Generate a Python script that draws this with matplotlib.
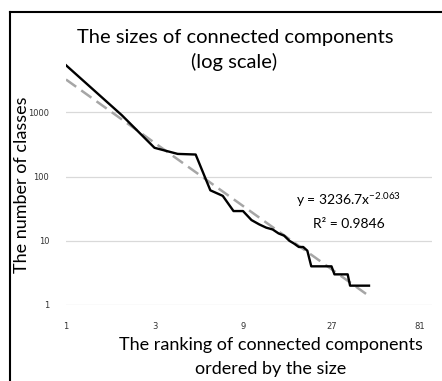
import matplotlib
matplotlib.use("Agg")
import matplotlib.pyplot as plt
from matplotlib.lines import Line2D
import numpy as np

# Data
ranks = list(range(1, 44))
sizes = [5400, 900, 280, 225, 220, 61, 50, 29, 29, 21,
         18, 16, 15, 13, 12, 10, 9, 8, 8, 7,
         4, 4, 4, 4, 4, 4, 4, 3, 3, 3,
         3, 3, 3, 2, 2, 2, 2, 2, 2, 2,
         2, 2, 2]
fit_a = 3236.7
fit_b = -2.063
r2 = 0.9846
x_ticks = [1, 3, 9, 27, 81]
y_ticks = [1, 10, 100, 1000]

W, H = 442, 381
fig = plt.figure(figsize=(W / 100, H / 100), dpi=100)
fig.patch.set_facecolor("white")

L, R, B, T = 66, 432, 305, 58
ax = fig.add_axes([L / W, 1 - B / H, (R - L) / W, (B - T) / H])
ax.set_xscale("log")
ax.set_yscale("log")
ax.set_xlim(1, 94)
ax.set_ylim(1, 7000)

for yv in y_ticks:
    ax.axhline(yv, color="#d9d9d9", lw=0.9, zorder=0)

xs = np.array(ranks, dtype=float)
ax.plot(xs, fit_a * xs ** fit_b, color="#a6a6a6", lw=1.8, ls=(0, (5, 2.5)), zorder=2)
ax.plot(ranks, sizes, color="black", lw=1.7, zorder=3)

ax.set_xticks(x_ticks)
ax.set_xticklabels([str(v) for v in x_ticks])
ax.set_yticks(y_ticks)
ax.set_yticklabels([str(v) for v in y_ticks])
ax.minorticks_off()
ax.tick_params(axis="both", length=0, labelsize=6, labelcolor="#333333")
ax.tick_params(axis="x", pad=12)
ax.tick_params(axis="y", pad=12)
for s in ax.spines.values():
    s.set_visible(False)

font = "Lato"
fig.text(235 / W, 1 - 43 / H, "The sizes of connected components", ha="center",
         va="baseline", fontsize=14.5, family=font)
fig.text(234 / W, 1 - 68 / H, "(log scale)", ha="center", va="baseline",
         fontsize=14.5, family=font)
fig.text(271 / W, 1 - 350 / H, "The ranking of connected components", ha="center",
         va="baseline", fontsize=13, family=font)
fig.text(271 / W, 1 - 374 / H, "ordered by the size", ha="center", va="baseline",
         fontsize=13, family=font)
fig.text(22 / W, 1 - 185 / H, "The number of classes", ha="center", va="center",
         rotation=90, fontsize=13, family=font)
fig.text(348 / W, 1 - 205 / H, r"y = 3236.7x$^{\mathdefault{-2.063}}$", ha="center",
         va="baseline", fontsize=10, family=font)
fig.text(349 / W, 1 - 228 / H, "R² = %.4f" % r2, ha="center", va="baseline",
         fontsize=10, family=font)

# picture frame on left and top
fig.add_artist(Line2D([10 / W, 10 / W], [0, 1 - 12 / H], color="black", lw=1.5))
fig.add_artist(Line2D([10 / W, 1], [1 - 12 / H, 1 - 12 / H], color="black", lw=1.5))

fig.savefig("out.png", dpi=100)
